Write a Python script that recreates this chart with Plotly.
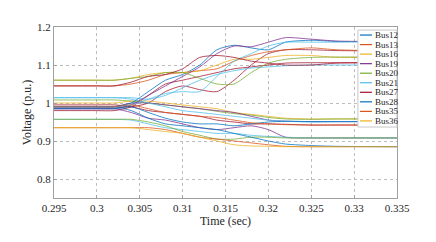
import plotly.graph_objects as go

# Sample times (sec)
time = [0.295, 0.300, 0.302, 0.304, 0.306, 0.308, 0.310, 0.312, 0.314, 0.316, 0.318, 0.320, 0.322, 0.325, 0.328, 0.335]

# Named buses (legend)
bus_names = ["Bus12", "Bus13", "Bus16", "Bus19", "Bus20", "Bus21", "Bus27", "Bus28", "Bus35", "Bus36"]
bus12 = [0.990, 0.990, 0.990, 1.000, 1.030, 1.060, 1.075, 1.100, 1.140, 1.152, 1.145, 1.140, 1.160, 1.165, 1.162, 1.162]
bus13 = [1.045, 1.045, 1.045, 1.050, 1.060, 1.075, 1.080, 1.085, 1.090, 1.110, 1.125, 1.135, 1.140, 1.145, 1.140, 1.137]
bus16 = [1.060, 1.060, 1.060, 1.065, 1.075, 1.080, 1.080, 1.085, 1.100, 1.115, 1.115, 1.120, 1.125, 1.125, 1.120, 1.121]
bus19 = [0.985, 0.985, 0.985, 0.995, 1.020, 1.045, 1.070, 1.095, 1.130, 1.150, 1.148, 1.160, 1.172, 1.168, 1.163, 1.162]
bus20 = [1.060, 1.060, 1.060, 1.065, 1.070, 1.080, 1.080, 1.065, 1.050, 1.050, 1.080, 1.105, 1.115, 1.120, 1.121, 1.121]
bus21 = [0.990, 0.990, 0.990, 0.995, 1.010, 1.025, 1.030, 1.030, 1.070, 1.110, 1.130, 1.150, 1.160, 1.160, 1.160, 1.162]
bus27 = [1.045, 1.045, 1.045, 1.055, 1.070, 1.075, 1.090, 1.120, 1.125, 1.120, 1.110, 1.105, 1.100, 1.100, 1.105, 1.106]
bus28 = [0.985, 0.985, 0.985, 0.990, 0.975, 0.960, 0.950, 0.945, 0.945, 0.940, 0.945, 0.950, 0.952, 0.951, 0.951, 0.951]
bus35 = [0.990, 0.990, 0.990, 0.995, 0.985, 0.975, 0.970, 0.965, 0.962, 0.955, 0.948, 0.945, 0.943, 0.942, 0.942, 0.942]
bus36 = [0.935, 0.935, 0.935, 0.935, 0.930, 0.925, 0.920, 0.910, 0.900, 0.890, 0.887, 0.886, 0.885, 0.885, 0.885, 0.885]

# Other buses (not in legend)
other_a = [0.990, 0.990, 0.990, 0.990, 1.000, 1.030, 1.045, 1.035, 1.030, 1.060, 1.100, 1.130, 1.140, 1.140, 1.138, 1.137]
other_b = [0.980, 0.980, 0.980, 0.990, 1.020, 1.050, 1.060, 1.070, 1.080, 1.090, 1.095, 1.100, 1.105, 1.106, 1.106, 1.106]
other_c = [1.014, 1.014, 1.014, 1.014, 1.010, 1.020, 1.040, 1.060, 1.075, 1.085, 1.092, 1.095, 1.098, 1.100, 1.100, 1.100]
other_d = [1.000, 1.000, 1.000, 1.005, 1.005, 1.000, 0.995, 0.990, 0.985, 0.975, 0.970, 0.965, 0.960, 0.958, 0.958, 0.958]
other_e = [1.008, 1.008, 1.008, 1.005, 1.000, 0.995, 0.990, 0.985, 0.978, 0.972, 0.968, 0.962, 0.958, 0.957, 0.958, 0.958]
other_f = [0.990, 0.990, 0.990, 1.000, 1.000, 0.995, 0.990, 0.985, 0.980, 0.975, 0.965, 0.955, 0.952, 0.951, 0.951, 0.951]
other_g = [1.014, 1.014, 1.014, 1.010, 1.000, 0.990, 0.980, 0.975, 0.970, 0.965, 0.960, 0.955, 0.952, 0.950, 0.951, 0.951]
other_h = [0.995, 0.995, 0.995, 0.990, 0.980, 0.975, 0.970, 0.965, 0.955, 0.950, 0.945, 0.945, 0.944, 0.942, 0.942, 0.942]
other_i = [0.985, 0.985, 0.985, 0.975, 0.960, 0.955, 0.945, 0.935, 0.930, 0.935, 0.940, 0.930, 0.910, 0.908, 0.908, 0.908]
other_j = [0.957, 0.957, 0.957, 0.955, 0.945, 0.935, 0.930, 0.925, 0.920, 0.920, 0.915, 0.912, 0.910, 0.908, 0.908, 0.908]
other_k = [0.957, 0.957, 0.957, 0.957, 0.950, 0.940, 0.925, 0.915, 0.905, 0.905, 0.910, 0.910, 0.908, 0.908, 0.908, 0.908]
other_l = [0.935, 0.935, 0.935, 0.935, 0.935, 0.930, 0.920, 0.910, 0.905, 0.900, 0.895, 0.890, 0.886, 0.885, 0.885, 0.885]
other_m = [0.990, 0.990, 0.990, 0.980, 0.960, 0.945, 0.940, 0.935, 0.930, 0.920, 0.910, 0.900, 0.892, 0.888, 0.886, 0.885]

named_series = [bus12, bus13, bus16, bus19, bus20, bus21, bus27, bus28, bus35, bus36]
other_series = [other_a, other_b, other_c, other_d, other_e, other_f, other_g,
                other_h, other_i, other_j, other_k, other_l, other_m]
other_colors = ["#A2142F", "#A2142F", "#4DBEEE", "#EDB120", "#77AC30", "#7E2F8E", "#4DBEEE",
                "#A2142F", "#7E2F8E", "#4DBEEE", "#77AC30", "#D95319", "#0072BD"]

palette = ["#0072BD", "#D95319", "#EDB120", "#7E2F8E", "#77AC30", "#4DBEEE", "#A2142F"]
FONT = "Liberation Serif, Times New Roman, serif"

fig = go.Figure()
for vals, col in zip(other_series, other_colors):
    fig.add_trace(go.Scatter(x=time, y=vals, mode="lines", line=dict(color=col, width=0.9, shape="spline", smoothing=0.7),
                             opacity=0.85, showlegend=False))
for i, (name, vals) in enumerate(zip(bus_names, named_series)):
    fig.add_trace(go.Scatter(x=time, y=vals, mode="lines", name=name,
                             line=dict(color=palette[i % 7], width=0.9, shape="spline", smoothing=0.7),
                             opacity=0.85, showlegend=False))

# Custom compact legend (MATLAB-style)
shapes = [dict(type="rect", xref="paper", yref="paper", x0=0.886, x1=1.0, y0=0.415, y1=0.982,
               line=dict(color="#c8c8c8", width=1), fillcolor="white", layer="above")]
annotations = []
for i, name in enumerate(bus_names):
    yp = 0.953 - i * 0.0558
    shapes.append(dict(type="line", xref="paper", yref="paper", x0=0.892, x1=0.927, y0=yp, y1=yp,
                       line=dict(color=palette[i % 7], width=1.2), layer="above"))
    annotations.append(dict(xref="paper", yref="paper", x=0.929, y=yp, text=name, showarrow=False,
                            xanchor="left", yanchor="middle", font=dict(family=FONT, size=9, color="#262626")))

# page body adds an 8px offset, so the figure is sized to fit the window after it
fig.update_layout(
    width=428, height=234,
    margin=dict(l=46, r=39, t=19, b=44, autoexpand=False),
    paper_bgcolor="white", plot_bgcolor="white",
    font=dict(family=FONT, size=11, color="#262626"),
    shapes=shapes, annotations=annotations,
    showlegend=False,
)
fig.update_xaxes(range=[0.295, 0.335], dtick=0.005, tick0=0.295, automargin=False,
                 showgrid=True, gridcolor="#bdbdbd", griddash="dot", gridwidth=1,
                 showline=True, linecolor="#a0a0a0", linewidth=1, mirror=True,
                 ticks="inside", ticklen=3, tickcolor="#a0a0a0", zeroline=False,
                 title=dict(text="Time (sec)", font=dict(size=12), standoff=2),
                 tickfont=dict(size=11))
fig.update_yaxes(range=[0.75, 1.2], dtick=0.1, tick0=0.8, automargin=False,
                 showgrid=True, gridcolor="#bdbdbd", griddash="dot", gridwidth=1,
                 showline=True, linecolor="#a0a0a0", linewidth=1, mirror=True,
                 ticks="inside", ticklen=3, tickcolor="#a0a0a0", zeroline=False,
                 title=dict(text="Voltage (p.u.)", font=dict(size=12), standoff=2),
                 tickfont=dict(size=11))

fig.write_html("out.html")
